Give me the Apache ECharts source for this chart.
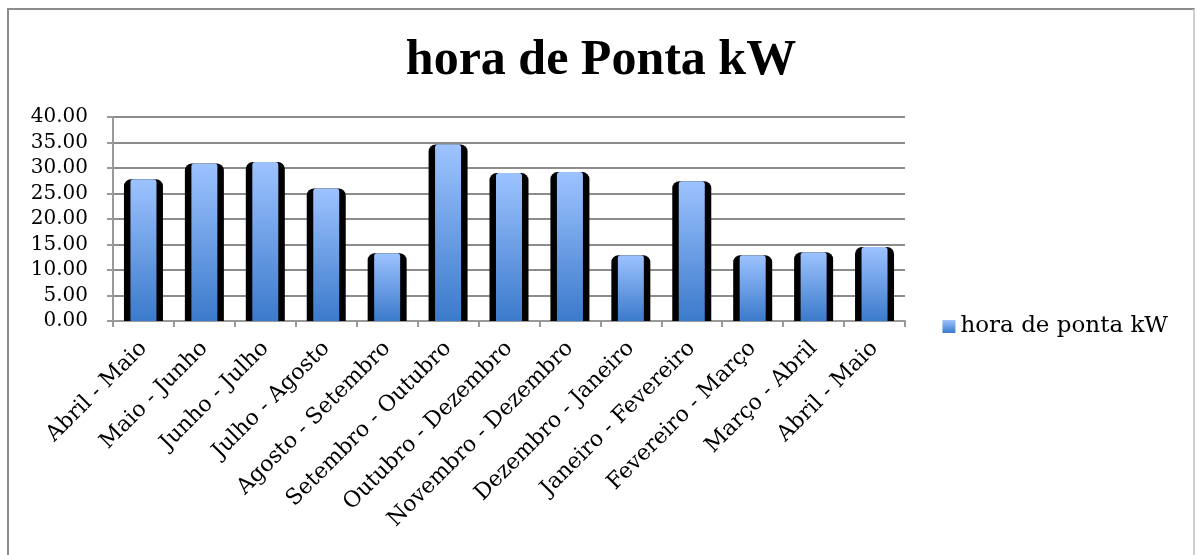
<!DOCTYPE html>
<html>
<head>
<meta charset="utf-8">
<script src="https://cdn.jsdelivr.net/npm/echarts@6/dist/echarts.min.js"></script>
<style>
  html, body { margin: 0; padding: 0; background: #fff; }
  #chart { position: absolute; left: 7px; top: 8px; width: 1188px; height: 547px;
           border-left: 2px solid #8c8c8c; border-top: 2px solid #8c8c8c; border-right: 2px solid #d0d0d0; box-sizing: border-box; }
</style>
</head>
<body>
<div id="chart"></div>
<script>
const categories = ['Abril - Maio', 'Maio - Junho', 'Junho - Julho', 'Julho - Agosto', 'Agosto - Setembro',
  'Setembro - Outubro', 'Outubro - Dezembro', 'Novembro - Dezembro', 'Dezembro - Janeiro',
  'Janeiro - Fevereiro', 'Fevereiro - Março', 'Março - Abril', 'Abril - Maio'];
const values = [27.8, 30.9, 31.2, 26.0, 13.3, 34.6, 29.0, 29.2, 12.9, 27.4, 12.9, 13.5, 14.5];
const seriesName = 'hora de ponta kW';

const chart = echarts.init(document.getElementById('chart'));
const font = 'DejaVu Serif';
const blue = new echarts.graphic.LinearGradient(0, 0, 0, 1, [
  { offset: 0, color: '#9dc3ff' },
  { offset: 1, color: '#3b7acb' }
]);

const option = {
  animation: false,
  title: {
    text: 'hora de Ponta kW',
    left: 'center',
    top: 21,
    textStyle: { fontFamily: 'Liberation Serif', fontWeight: 'bold', fontSize: 50, color: '#000' }
  },
  legend: {
    data: [{ name: seriesName, itemStyle: { color: new echarts.graphic.LinearGradient(0, 0, 0, 1, [
      { offset: 0, color: '#9dc3ff' }, { offset: 1, color: '#3b7acb' }]) } }],
    right: 20,
    top: 300,
    icon: 'rect',
    itemWidth: 13,
    itemHeight: 13,
    itemGap: 4,
    textStyle: { fontFamily: font, fontSize: 23, color: '#000' }
  },
  grid: { left: 104, right: 288, top: 107, bottom: 234 },
  xAxis: [{
    type: 'category',
    data: categories,
    axisLine: { lineStyle: { color: '#999', width: 2 } },
    axisTick: { show: true, length: 6, lineStyle: { color: '#999', width: 2 } },
    axisLabel: { rotate: 45, interval: 0, fontFamily: font, fontSize: 22, color: '#000', margin: 24 }
  }, {
    type: 'category',
    data: categories,
    show: false
  }],
  yAxis: {
    type: 'value',
    min: 0,
    max: 40,
    interval: 5,
    axisLine: { show: true, lineStyle: { color: '#999', width: 2 } },
    axisTick: { show: true, length: 6, lineStyle: { color: '#999', width: 2 } },
    splitLine: { lineStyle: { color: '#8c8c8c', width: 2 } },
    axisLabel: { formatter: v => v.toFixed(2), fontFamily: font, fontSize: 20, color: '#000', margin: 25 }
  },
  series: [{
    name: seriesName,
    type: 'bar',
    xAxisIndex: 0,
    data: values,
    barWidth: 39,
    itemStyle: { color: '#000', borderRadius: [7, 7, 0, 0] },
    z: 2
  }, {
    name: seriesName,
    type: 'bar',
    xAxisIndex: 1,
    data: values,
    barWidth: 26,
    itemStyle: { color: blue, borderRadius: [3, 3, 0, 0] },
    z: 3
  }]
};
chart.setOption(option);
</script>
</body>
</html>
